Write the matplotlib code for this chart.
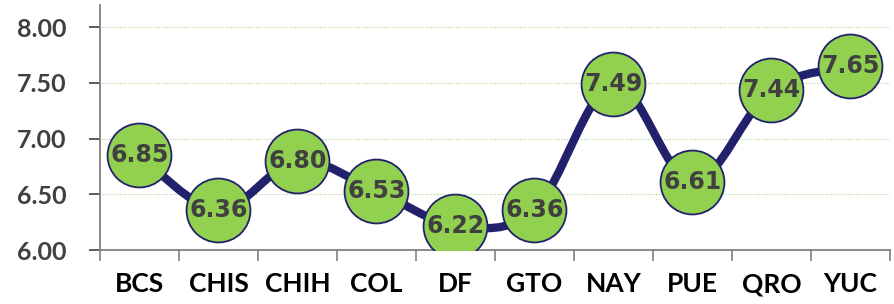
import matplotlib
matplotlib.use("Agg")
import matplotlib.pyplot as plt
from matplotlib.path import Path
from matplotlib.patches import PathPatch
import numpy as np

states = ["BCS", "CHIS", "CHIH", "COL", "DF", "GTO", "NAY", "PUE", "QRO", "YUC"]
scores = [6.85, 6.36, 6.80, 6.53, 6.22, 6.36, 7.49, 6.61, 7.44, 7.65]
yticks = [6.0, 6.5, 7.0, 7.5, 8.0]

navy = "#22216b"
green = "#92d050"
grey = "#404040"

fig = plt.figure(figsize=(8.95, 3.04), dpi=100)
ax = fig.add_axes([0.1117, 0.1776, 0.8827, 0.806])

x = np.arange(len(states))
y = np.array(scores)

# smoothed line like the spreadsheet "smoothed line" option (bezier through points)
verts = [(x[0], y[0])]
codes = [Path.MOVETO]
n = len(x)
for i in range(n - 1):
    p0 = np.array([x[max(i - 1, 0)], y[max(i - 1, 0)]])
    p1 = np.array([x[i], y[i]])
    p2 = np.array([x[i + 1], y[i + 1]])
    p3 = np.array([x[min(i + 2, n - 1)], y[min(i + 2, n - 1)]])
    c1 = p1 + (p2 - p0) / 6.0
    c2 = p2 - (p3 - p1) / 6.0
    verts += [tuple(c1), tuple(c2), tuple(p2)]
    codes += [Path.CURVE4] * 3
ax.add_patch(PathPatch(Path(verts, codes), fill=False, edgecolor=navy,
                       linewidth=6, capstyle="round", joinstyle="round", zorder=2))

ax.plot(x, y, linestyle="none", marker="o", markersize=46,
        markerfacecolor=green, markeredgecolor=navy, markeredgewidth=1.3, zorder=3)

for xi, yi in zip(x, y):
    ax.text(xi, yi, f"{yi:.2f}", ha="center", va="center", fontsize=17,
            fontweight="bold", color=grey, family="DejaVu Sans", zorder=4)

ax.set_xlim(-0.5, len(states) - 0.5)
ax.set_ylim(6.0, 8.2)
ax.set_yticks(yticks)
ax.set_yticklabels([f"{v:.2f}" for v in yticks], fontsize=18, fontweight="bold",
                   color=grey, family="Lato")
ax.set_xticks(x)
ax.set_xticklabels(states, fontsize=19, fontweight="bold", color="black", family="Lato")
ax.set_xticks(np.arange(len(states) + 1) - 0.5, minor=True)
ax.tick_params(axis="x", which="major", length=0, pad=16)
ax.tick_params(axis="x", which="minor", length=8, color="#808080", width=1.2)
ax.tick_params(axis="y", length=8, color="#404040", width=1.2, pad=16)

ax.grid(axis="y", linestyle=(0, (1, 1.5)), color="#a9d18e", linewidth=0.8, zorder=0)
for s in ["top", "right"]:
    ax.spines[s].set_visible(False)
ax.spines["left"].set_color("#808080")
ax.spines["bottom"].set_color("#808080")
ax.spines["left"].set_linewidth(1.3)
ax.spines["bottom"].set_linewidth(1.3)
ax.set_axisbelow(True)

fig.savefig("out.png", dpi=100)
